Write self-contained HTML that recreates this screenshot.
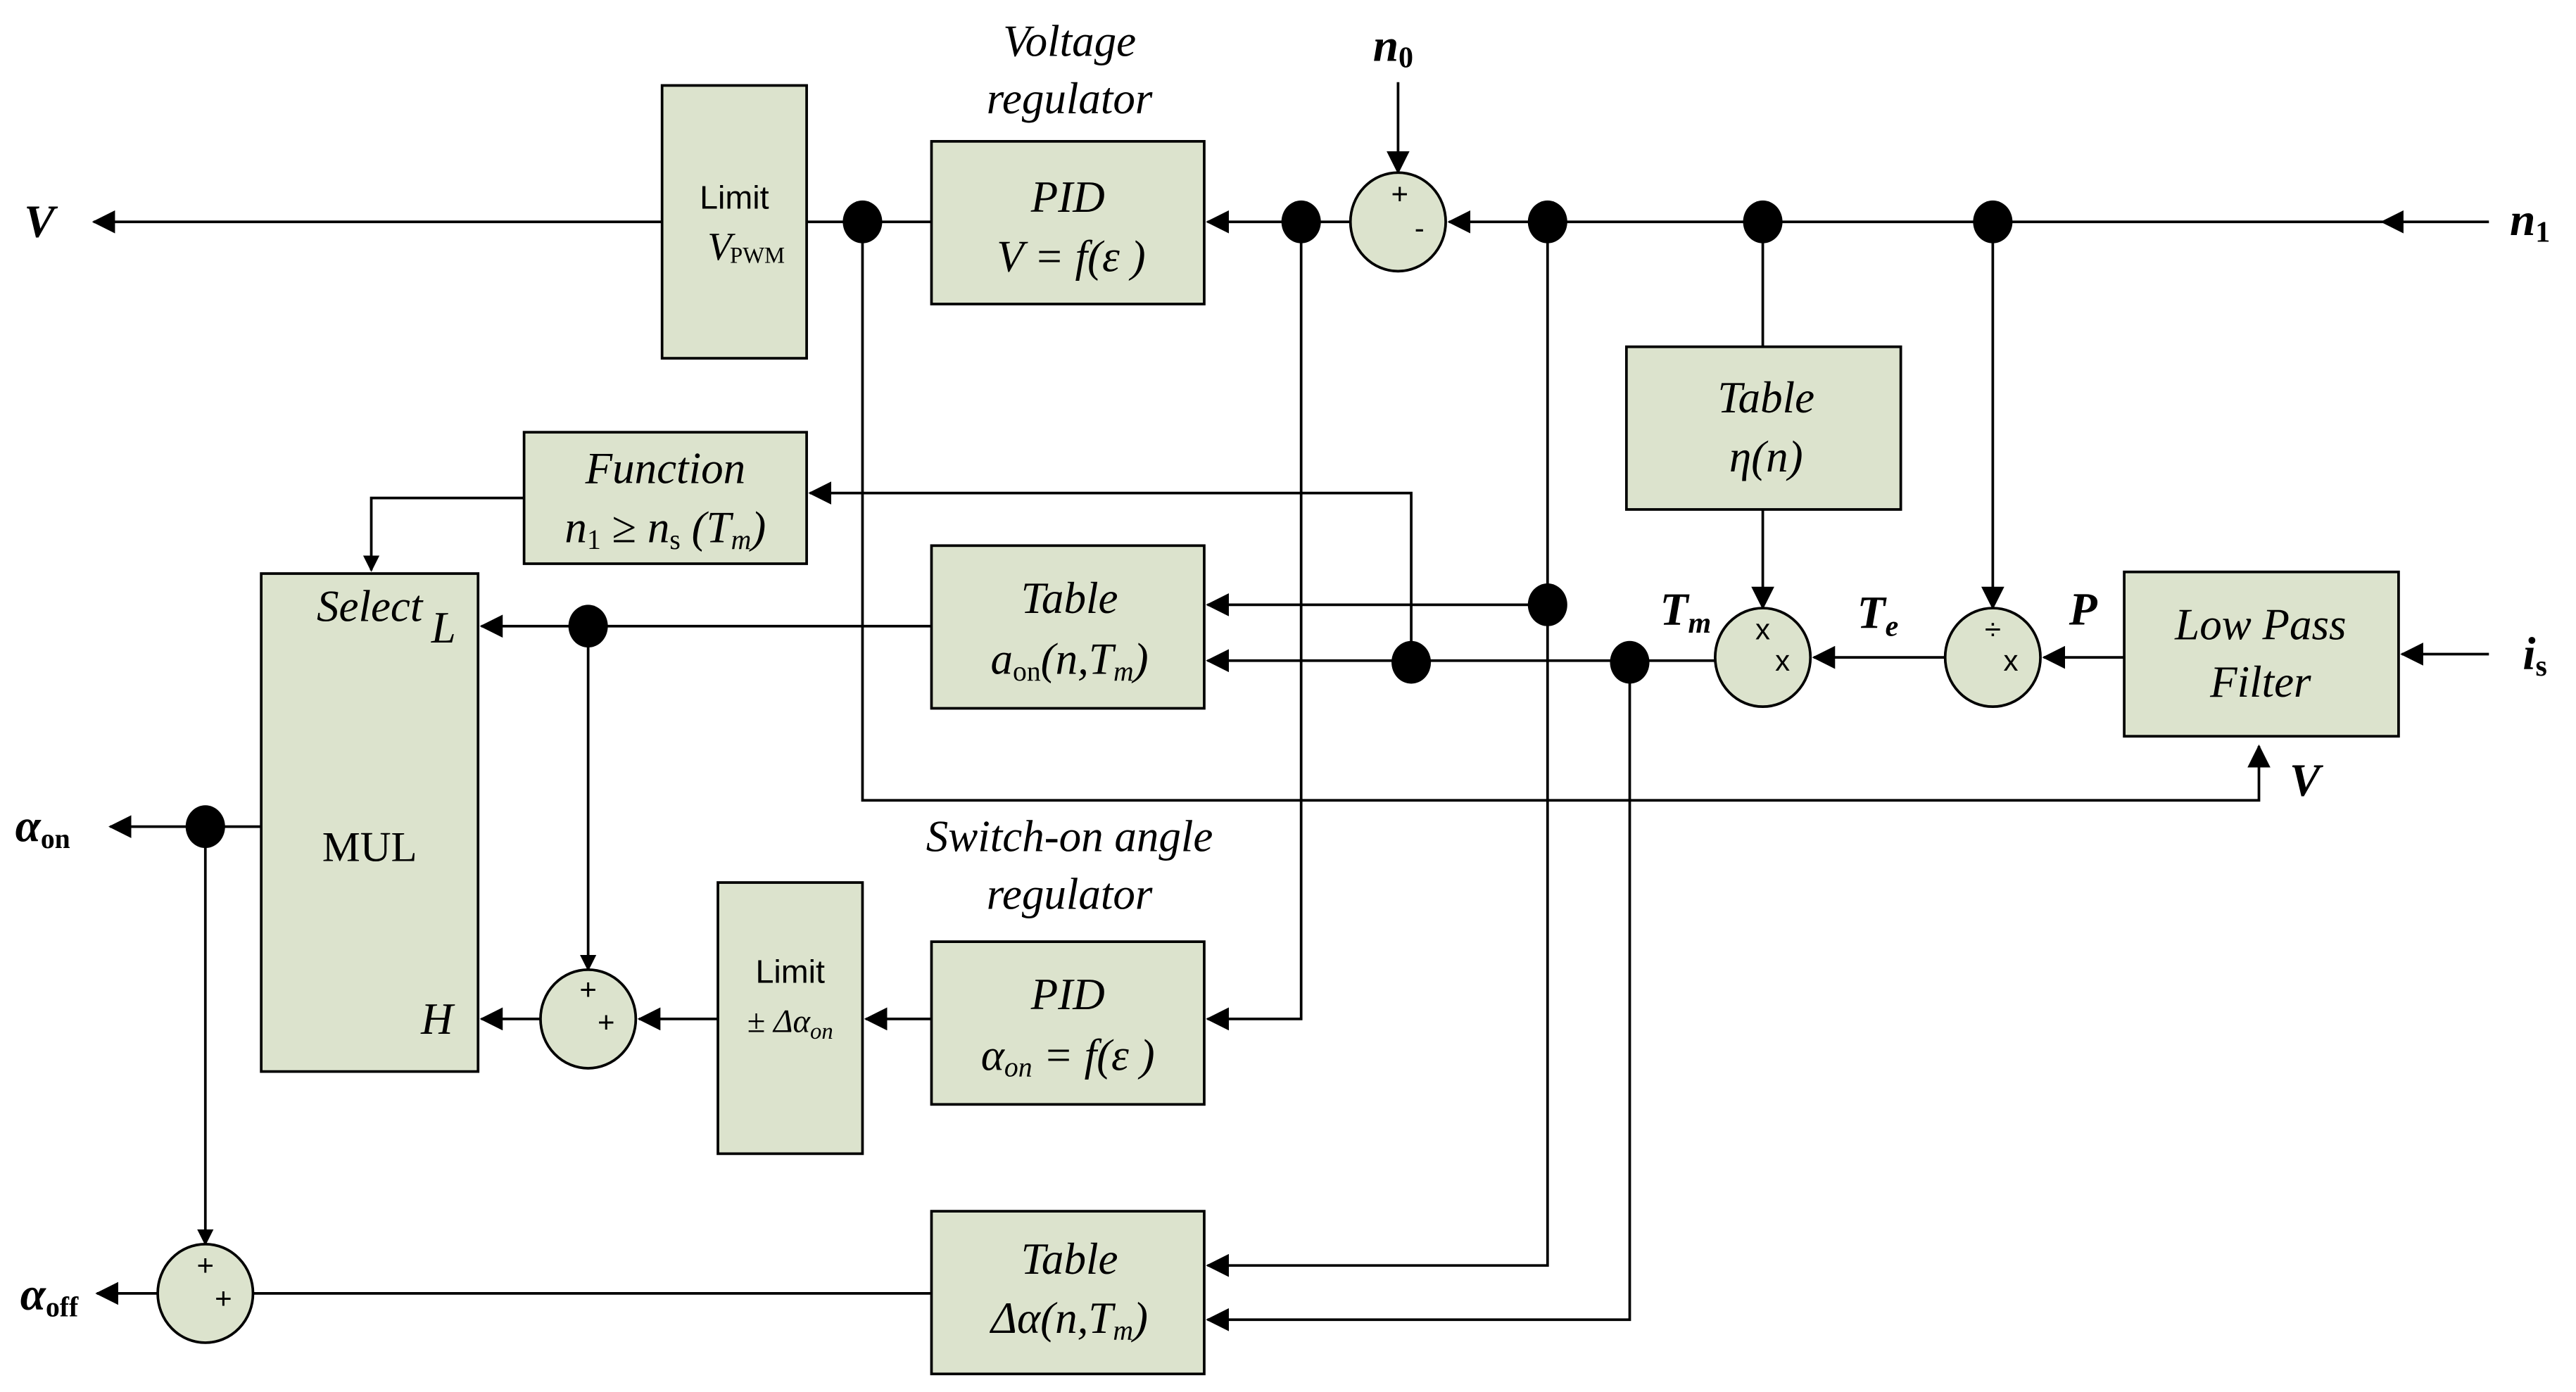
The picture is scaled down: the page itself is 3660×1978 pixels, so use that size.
<!DOCTYPE html>
<html><head><meta charset="utf-8"><style>
html,body{margin:0;padding:0;background:#fff;}
svg{display:block;}
.b{fill:#dce3cd;stroke:#000;stroke-width:1.6;}
.l{stroke:#000;stroke-width:1.6;fill:none;}
.t{font-family:"Liberation Serif",serif;font-style:italic;font-size:27px;text-anchor:middle;}
.s{font-family:"Liberation Sans",sans-serif;font-size:20px;text-anchor:middle;}
.bl{font-family:"Liberation Serif",serif;font-style:italic;font-weight:bold;font-size:28px;text-anchor:middle;}
</style></head><body>
<svg width="3660" height="1978" viewBox="0 0 1568 847" preserveAspectRatio="none" xmlns="http://www.w3.org/2000/svg">
<defs><marker id="a" markerWidth="10" markerHeight="10" refX="9" refY="5" orient="auto" markerUnits="userSpaceOnUse"><path d="M0,0 L10,5 L0,10 z" fill="#000"/></marker>
<marker id="a2" markerWidth="14" markerHeight="14" refX="13" refY="7" orient="auto" markerUnits="userSpaceOnUse"><path d="M0,0 L14,7 L0,14 z" fill="#000"/></marker></defs>

<path class="l" d="M403,135 H57" marker-end="url(#a2)"/>
<path class="l" d="M491,135 H567"/>
<path class="l" d="M792,135 H735" marker-end="url(#a2)"/>
<path class="l" d="M792,135 H822"/>
<path class="l" d="M1515,135 H1450" marker-end="url(#a2)"/>
<path class="l" d="M1450,135 H882" marker-end="url(#a2)"/>
<path class="l" d="M851,50 V105" marker-end="url(#a2)"/>
<path class="l" d="M525,135 V487 H1375 V454" marker-end="url(#a2)"/>
<path class="l" d="M792,135 V620 H735" marker-end="url(#a2)"/>
<path class="l" d="M942,135 V770 H735" marker-end="url(#a2)"/>
<path class="l" d="M942,368 H735" marker-end="url(#a2)"/>
<path class="l" d="M1073,135 V211"/>
<path class="l" d="M1073,310 V370" marker-end="url(#a2)"/>
<path class="l" d="M1213,135 V370" marker-end="url(#a2)"/>
<path class="l" d="M1515,398 H1462" marker-end="url(#a2)"/>
<path class="l" d="M1293,400 H1244" marker-end="url(#a2)"/>
<path class="l" d="M1184,400 H1104" marker-end="url(#a2)"/>
<path class="l" d="M1044,402 H735" marker-end="url(#a2)"/>
<path class="l" d="M992,402 V803 H735" marker-end="url(#a2)"/>
<path class="l" d="M859,402 V300 H493" marker-end="url(#a2)"/>
<path class="l" d="M319,303 H226 V347" marker-end="url(#a)"/>
<path class="l" d="M567,381 H293" marker-end="url(#a2)"/>
<path class="l" d="M358,381 V590" marker-end="url(#a)"/>
<path class="l" d="M329,620 H293" marker-end="url(#a2)"/>
<path class="l" d="M437,620 H389" marker-end="url(#a2)"/>
<path class="l" d="M567,620 H527" marker-end="url(#a2)"/>
<path class="l" d="M159,503 H67" marker-end="url(#a2)"/>
<path class="l" d="M125,503 V757" marker-end="url(#a)"/>
<path class="l" d="M96,787 H59" marker-end="url(#a2)"/>
<path class="l" d="M567,787 H154"/>

<rect class="b" x="403" y="52" width="88" height="166"/>
<text class="s" x="447" y="127">Limit</text>
<text class="t" x="438" y="158" style="font-size:24px">V</text><text x="461" y="160" style="font-family:'Liberation Serif',serif;font-size:14px;text-anchor:middle">PWM</text>
<rect class="b" x="567" y="86" width="166" height="99"/>
<text class="t" x="650" y="129">PID</text>
<text class="t" x="652" y="165">V = f(ε )</text>
<text class="t" x="651" y="34">Voltage</text>
<text class="t" x="651" y="69">regulator</text>
<rect class="b" x="990" y="211" width="167" height="99"/>
<text class="t" x="1075" y="251">Table</text>
<text class="t" x="1075" y="287">η(n)</text>
<rect class="b" x="319" y="263" width="172" height="80"/>
<text class="t" x="405" y="294">Function</text>
<text class="t" x="405" y="330">n<tspan style="font-style:normal;font-size:17px" dy="4">1</tspan><tspan dy="-4" style="font-style:normal"> ≥ </tspan>n<tspan style="font-style:normal;font-size:17px" dy="4">s</tspan><tspan dy="-4"> (T</tspan><tspan style="font-size:17px" dy="4">m</tspan><tspan dy="-4">)</tspan></text>
<rect class="b" x="567" y="332" width="166" height="99"/>
<text class="t" x="651" y="373">Table</text>
<text class="t" x="651" y="410">a<tspan style="font-style:normal;font-size:17px" dy="4">on</tspan><tspan dy="-4">(n,T</tspan><tspan style="font-size:17px" dy="4">m</tspan><tspan dy="-4">)</tspan></text>
<rect class="b" x="159" y="349" width="132" height="303"/>
<text class="t" x="225" y="378">Select</text>
<text class="t" x="270" y="391">L</text>
<text class="s" x="225" y="524" style="font-family:'Liberation Serif',serif;font-size:26px">MUL</text>
<text class="t" x="266" y="629">H</text>
<rect class="b" x="1293" y="348" width="167" height="100"/>
<text class="t" x="1376" y="389">Low Pass</text>
<text class="t" x="1376" y="424">Filter</text>
<rect class="b" x="437" y="537" width="88" height="165"/>
<text class="s" x="481" y="598">Limit</text>
<text class="t" x="481" y="628" style="font-size:20px"><tspan style="font-style:normal">± </tspan>Δα<tspan style="font-size:14px" dy="4">on</tspan></text>
<rect class="b" x="567" y="573" width="166" height="99"/>
<text class="t" x="650" y="614">PID</text>
<text class="t" x="650" y="651">α<tspan style="font-size:17px" dy="4">on</tspan><tspan dy="-4"> = f(ε )</tspan></text>
<text class="t" x="651" y="518">Switch-on angle</text>
<text class="t" x="651" y="553">regulator</text>
<rect class="b" x="567" y="737" width="166" height="99"/>
<text class="t" x="651" y="775">Table</text>
<text class="t" x="651" y="811">Δα(n,T<tspan style="font-size:17px" dy="4">m</tspan><tspan dy="-4">)</tspan></text>

<ellipse class="b" cx="851" cy="135" rx="29" ry="30"/>
<text class="s" x="852" y="124" style="font-size:18px">+</text><text class="s" x="864" y="145" style="font-size:18px">-</text>
<ellipse class="b" cx="1073" cy="400" rx="29" ry="30"/>
<text class="s" x="1073" y="389" style="font-size:18px">x</text><text class="s" x="1085" y="408" style="font-size:18px">x</text>
<ellipse class="b" cx="1213" cy="400" rx="29" ry="30"/>
<text class="s" x="1213" y="389" style="font-size:18px">÷</text><text class="s" x="1224" y="408" style="font-size:18px">x</text>
<ellipse class="b" cx="358" cy="620" rx="29" ry="30"/>
<text class="s" x="358" y="608" style="font-size:18px">+</text><text class="s" x="369" y="628" style="font-size:18px">+</text>
<ellipse class="b" cx="125" cy="787" rx="29" ry="30"/>
<text class="s" x="125" y="776" style="font-size:18px">+</text><text class="s" x="136" y="796" style="font-size:18px">+</text>

<g fill="#000">
<ellipse cx="525" cy="135" rx="12" ry="13"/>
<ellipse cx="792" cy="135" rx="12" ry="13"/>
<ellipse cx="942" cy="135" rx="12" ry="13"/>
<ellipse cx="1073" cy="135" rx="12" ry="13"/>
<ellipse cx="1213" cy="135" rx="12" ry="13"/>
<ellipse cx="942" cy="368" rx="12" ry="13"/>
<ellipse cx="859" cy="403" rx="12" ry="13"/>
<ellipse cx="992" cy="403" rx="12" ry="13"/>
<ellipse cx="358" cy="381" rx="12" ry="13"/>
<ellipse cx="125" cy="503" rx="12" ry="13"/>
</g>

<text class="bl" x="24" y="144">V</text>
<text class="bl" x="848" y="37">n<tspan style="font-size:18px;font-style:normal" dy="4">0</tspan></text>
<text class="bl" x="1540" y="143">n<tspan style="font-size:18px;font-style:normal" dy="4">1</tspan></text>
<text class="bl" x="1543" y="407">i<tspan style="font-size:18px;font-style:normal" dy="4">s</tspan></text>
<text class="bl" x="1403" y="484">V</text>
<text class="bl" x="1268" y="380">P</text>
<text class="bl" x="1143" y="382">T<tspan style="font-size:18px" dy="5">e</tspan></text>
<text class="bl" x="1026" y="380">T<tspan style="font-size:18px" dy="5">m</tspan></text>
<text class="bl" x="26" y="512">α<tspan style="font-size:17px;font-style:normal" dy="4">on</tspan></text>
<text class="bl" x="30" y="797">α<tspan style="font-size:17px;font-style:normal" dy="4">off</tspan></text>
</svg>
</body></html>
